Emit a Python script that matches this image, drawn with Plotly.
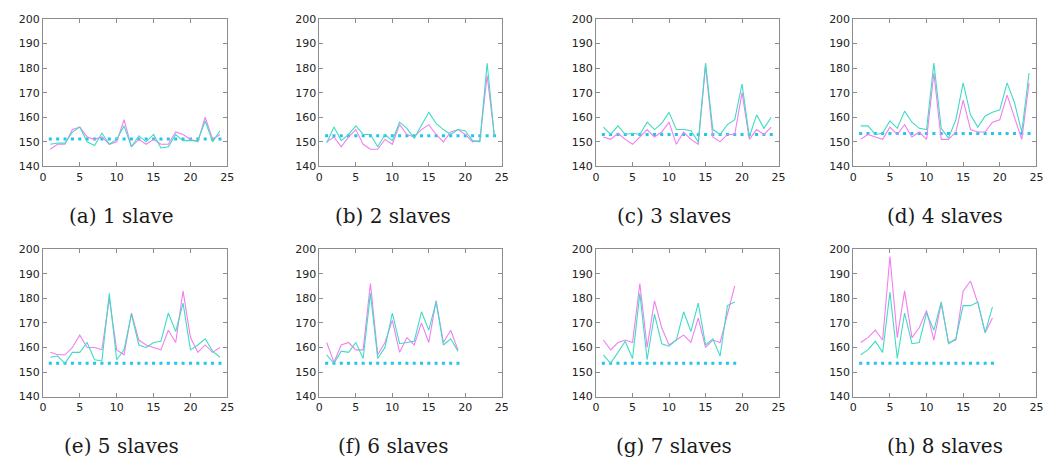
import plotly.graph_objects as go

W, H = 1053, 470

x_tick_vals = [0, 5, 10, 15, 20, 25]
y_tick_vals = [140, 150, 160, 170, 180, 190, 200]

captions = ["(a) 1 slave", "(b) 2 slaves", "(c) 3 slaves", "(d) 4 slaves",
            "(e) 5 slaves", "(f) 6 slaves", "(g) 7 slaves", "(h) 8 slaves"]

baseline = [151.2, 152.5, 153.0, 153.4, 153.6, 153.6, 153.6, 153.6]

magenta_a = [147, 149, 149, 155, 156, 152, 151, 152, 149, 150, 159, 148,
             151, 149, 151, 149, 149, 154, 153, 151, 150, 160, 151, 153]
teal_a = [149, 149.5, 149.5, 154, 156, 150, 148.5, 153.5, 149, 151, 156.5, 148,
          152.5, 150, 153, 147.5, 148, 153, 150.5, 150.5, 150.5, 158.5, 150, 154.5]

magenta_b = [150, 152, 148, 152, 155, 149, 147, 147, 151, 149, 157, 153,
             152, 155, 157, 153, 150, 154, 155, 153, 150, 150.5, 177, 152]
teal_b = [149.5, 156, 150.5, 153, 156.5, 153, 153, 148, 153, 150.5, 158, 155.5,
          151.5, 157, 162, 157.5, 155, 153, 155, 154.5, 150.5, 150, 182, 152]

magenta_c = [152, 151, 153.5, 151, 149, 152, 155, 152, 154, 158, 149, 154,
             151, 149, 181, 152, 150, 153, 153, 170, 151, 155, 153, 156]
teal_c = [156, 153, 156.5, 153, 153.5, 153, 158, 155, 157.5, 162, 155, 155,
          154.5, 150, 182, 155, 153, 157, 159, 173.5, 152, 161, 155.5, 160]

magenta_d = [151, 153, 152, 151, 156, 153, 157, 152, 154, 151, 178, 151,
             151, 154, 167, 155, 154, 154, 158, 159, 169, 160, 151, 174]
teal_d = [156.5, 156.5, 153, 153.5, 158.5, 155.5, 162.5, 158, 155.5, 155, 182, 155.5,
          151.5, 159, 174, 161, 156, 160.5, 162, 163, 174, 166, 154, 178]

magenta_e = [158, 157, 157, 160, 165, 160, 160, 159, 180, 159, 157, 174,
             163, 161, 160, 159, 167, 162, 183, 164, 158, 161, 158, 160]
teal_e = [156, 156.5, 153.5, 158, 158, 162, 155, 154.5, 182, 155, 159, 173.5,
          161, 160, 162, 162.5, 174, 166.5, 178, 159, 161, 163.5, 158.5, 156]

magenta_f = [162, 154, 161, 162, 159, 159, 186, 157, 162, 171, 158, 164,
             161, 170, 162, 179, 162, 167, 159]
teal_f = [157, 153.5, 158.5, 158, 162, 155.5, 182, 155.5, 160, 174, 161.5, 162,
          162.5, 174.5, 167, 178.5, 161, 163.5, 158.5]

magenta_g = [163, 159, 162, 163, 162, 186, 160, 179, 168, 161, 163, 165,
             162, 172, 160, 163, 162, 174, 185]
teal_g = [157, 153.5, 158, 162.5, 155.5, 182, 155, 173.5, 161.5, 160.5, 163, 174.5,
          166.5, 178, 161, 163.5, 156.5, 177, 178.5]

magenta_h = [162, 164, 167, 163, 197, 164, 183, 164, 168, 175, 163, 178,
             162, 163, 183, 187, 178, 166, 172]
teal_h = [157, 159, 162.5, 158, 182.5, 155.5, 174, 161.5, 162, 174, 167, 178.5,
          161.5, 163.5, 177, 177, 178.5, 166, 176.5]

magenta_series = [magenta_a, magenta_b, magenta_c, magenta_d,
                  magenta_e, magenta_f, magenta_g, magenta_h]
teal_series = [teal_a, teal_b, teal_c, teal_d, teal_e, teal_f, teal_g, teal_h]

# layout (pixels)
col_px = [(39.3, 225.7), (318.7, 503.0), (598.3, 782.7), (858.3, 1043.3)]
row_px = [(13.3, 165.0), (250.0, 401.7)]
cap_x = [119, 393, 677, 951]
cap_y = [216, 453]

MAG = "#f27ef2"
TEAL = "#3fdcc4"
DOT = "#22c4f0"
FRAME = "#8c8c8c"

fig = go.Figure()
layout = {}
annotations = []
for i in range(8):
    r, c = divmod(i, 4)
    k = "" if i == 0 else str(i + 1)
    n = len(magenta_series[i])
    xs = list(range(1, n + 1))
    fig.add_trace(go.Scatter(x=xs, y=[baseline[i]] * n, mode="markers",
                             marker=dict(color=DOT, size=3, symbol="square"),
                             xaxis="x" + k, yaxis="y" + k, showlegend=False,
                             hoverinfo="skip"))
    fig.add_trace(go.Scatter(x=xs, y=magenta_series[i], mode="lines",
                             line=dict(color=MAG, width=1.1),
                             xaxis="x" + k, yaxis="y" + k, showlegend=False))
    fig.add_trace(go.Scatter(x=xs, y=teal_series[i], mode="lines",
                             line=dict(color=TEAL, width=1.1),
                             xaxis="x" + k, yaxis="y" + k, showlegend=False))
    x0, x1 = col_px[c]
    y0, y1 = row_px[r]
    common = dict(showgrid=False, zeroline=False, showline=True, linecolor=FRAME,
                  linewidth=1, mirror="allticks", ticks="inside", ticklen=4,
                  tickcolor=FRAME, tickwidth=1, ticklabeloverflow="allow",
                  tickfont=dict(family="DejaVu Sans", size=11, color="#222222"))
    layout["xaxis" + k] = dict(common, domain=[x0 / W, x1 / W], range=[0, 25],
                               tickvals=x_tick_vals, anchor="y" + k)
    layout["yaxis" + k] = dict(common, domain=[1 - y1 / H, 1 - y0 / H], range=[140, 200],
                               tickvals=y_tick_vals, anchor="x" + k)
    annotations.append(dict(text=captions[i], xref="paper", yref="paper",
                            x=cap_x[c] / W, y=1 - cap_y[r] / H, xanchor="center",
                            yanchor="middle", showarrow=False,
                            font=dict(family="DejaVu Serif", size=20, color="#1a1a1a")))

fig.update_layout(width=W, height=H, margin=dict(l=0, r=0, t=0, b=0),
                  plot_bgcolor="white", paper_bgcolor="white",
                  annotations=annotations, **layout)
fig.write_html("out.html", config={"displayModeBar": False},
               post_script="document.body.style.margin='0';document.body.style.overflow='hidden';")
